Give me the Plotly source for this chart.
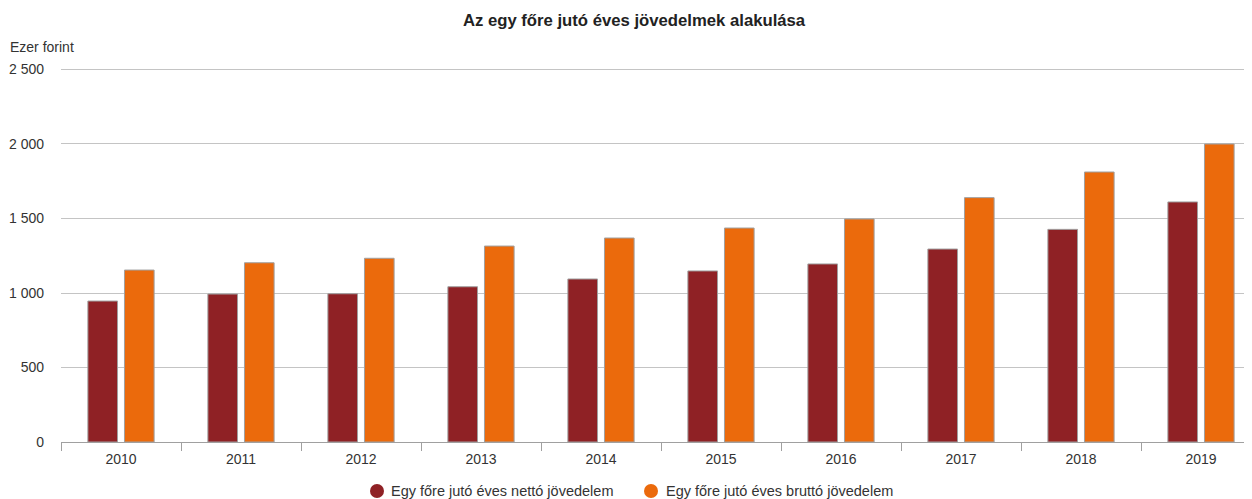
import plotly.graph_objects as go

years = ["2010", "2011", "2012", "2013", "2014", "2015", "2016", "2017", "2018", "2019"]
netto = [946, 993, 995, 1042, 1094, 1148, 1195, 1295, 1427, 1611]
brutto = [1154, 1203, 1233, 1315, 1369, 1436, 1497, 1640, 1812, 2000]
y_ticks = [0, 500, 1000, 1500, 2000, 2500]
y_tick_labels = ["0", "500", "1 000", "1 500", "2 000", "2 500"]

name_netto = "Egy főre jutó éves nettó jövedelem"
name_brutto = "Egy főre jutó éves bruttó jövedelem"
c_netto = "#8f2125"
c_brutto = "#eb6a0c"

# page offset (body margin) is 8 px
OFF = 8
W, H = 1244, 491
L, R, T, B = 53, 0, 60, 57
PW, PH = W - L - R, H - T - B
PL, PB = OFF + L, OFF + H - B  # plot left / bottom in viewport px


def px(vx):
    return (vx - PL) / PW


def py(vy):
    return (PB - vy) / PH


fig = go.Figure()
fig.add_trace(go.Bar(x=years, y=netto, name=name_netto,
                     marker=dict(color=c_netto, line=dict(color="#a0a0a0", width=1)), showlegend=False))
fig.add_trace(go.Bar(x=years, y=brutto, name=name_brutto,
                     marker=dict(color=c_brutto, line=dict(color="#a0a0a0", width=1)), showlegend=False))

# manual legend
legend_items = [(name_netto, c_netto, 377, 391), (name_brutto, c_brutto, 651, 666)]
shapes = []
annotations = []
for nm, c, cx, tx in legend_items:
    shapes.append(dict(type="circle", xref="paper", yref="paper",
                       x0=px(cx - 7), x1=px(cx + 7), y0=py(491 + 7), y1=py(491 - 7),
                       fillcolor=c, line=dict(width=0)))
    annotations.append(dict(text=nm, xref="paper", yref="paper", x=px(tx - 2), y=py(491),
                            xanchor="left", yanchor="middle", showarrow=False,
                            font=dict(size=14.5, color="#333333")))

annotations.append(dict(text="Ezer forint", xref="paper", yref="paper", x=px(8), y=py(47),
                        xanchor="left", yanchor="middle", showarrow=False,
                        font=dict(size=14, color="#333333")))

fig.update_layout(
    width=W, height=H,
    margin=dict(l=L, r=R, t=T, b=B, autoexpand=False),
    paper_bgcolor="white", plot_bgcolor="white",
    font=dict(family="Liberation Sans, Arial, sans-serif", size=14, color="#333333"),
    title=dict(text="<b>Az egy főre jutó éves jövedelmek alakulása</b>", x=(634 - OFF) / W, xanchor="center",
               y=1 - 12 / H, yref="container", yanchor="middle", font=dict(size=16.7, color="#222222")),
    barmode="group", bargap=0.39, bargroupgap=0.19,
    showlegend=False,
    shapes=shapes,
    annotations=annotations,
)
fig.update_xaxes(type="category", range=[-0.5, -0.5 + PW / 120.0], showgrid=False, showline=True,
                 linecolor="#a0a0a0", linewidth=1,
                 ticks="outside", tickson="boundaries", ticklen=8, tickcolor="#a0a0a0", tickwidth=1,
                 ticklabelstandoff=4, tickfont=dict(size=14, color="#333333"))
fig.update_yaxes(range=[0, 2510], tickvals=y_ticks, ticktext=y_tick_labels, showgrid=True, gridcolor="#c4c4c4",
                 gridwidth=1, zeroline=False, showline=False, ticks="", ticklabelstandoff=16,
                 tickfont=dict(size=14, color="#333333"))

fig.write_html("out.html")
